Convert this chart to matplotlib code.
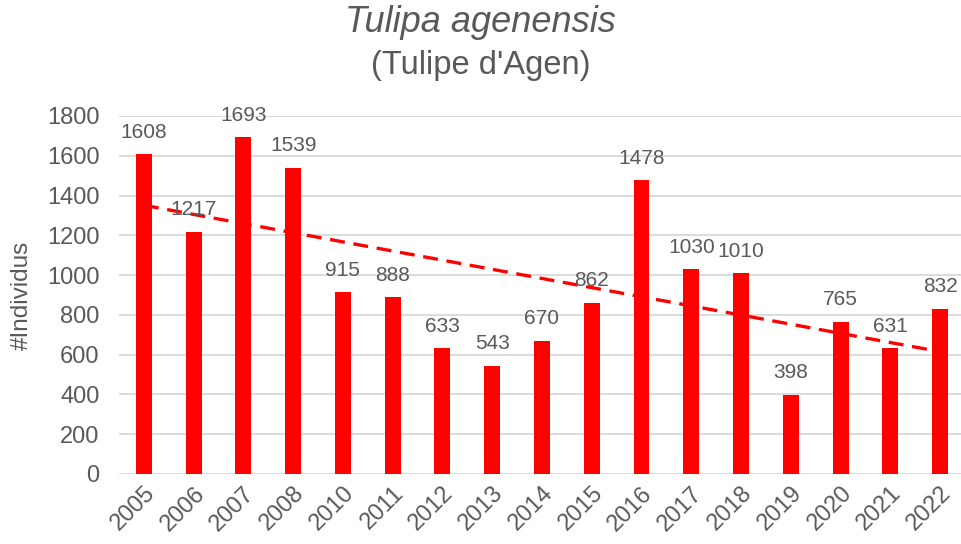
import matplotlib.pyplot as plt
import numpy as np

years = ["2005", "2006", "2007", "2008", "2010", "2011", "2012", "2013", "2014",
         "2015", "2016", "2017", "2018", "2019", "2020", "2021", "2022"]
counts = [1608, 1217, 1693, 1539, 915, 888, 633, 543, 670,
          862, 1478, 1030, 1010, 398, 765, 631, 832]

grey = "#595959"
plt.rcParams['font.family'] = ['Liberation Sans', 'DejaVu Sans']

fig = plt.figure(figsize=(9.61, 5.44), dpi=100)
ax = fig.add_axes([0.1238, 0.1287, 0.8762, 0.6581])

x = np.arange(len(years))
bars = ax.bar(x, counts, width=0.32, color="#ff0000", zorder=2)

# linear trend over the category index, like Excel does
slope, inter = np.polyfit(x, counts, 1)
ax.plot(x, slope * x + inter, color="#ff0000", lw=2.4, dashes=(4.5, 2.6), zorder=3)

for xi, v in zip(x, counts):
    ax.annotate(str(v), (xi, v), xytext=(0, 9), textcoords="offset points",
                ha="center", va="bottom", fontsize=15, color=grey, zorder=4)

ax.set_xlim(-0.5, 16.42)
ax.set_ylim(0, 1800)
ax.set_yticks(range(0, 1801, 200))
ax.set_xticks(x)
ax.set_xticklabels(years, rotation=45, ha="right", rotation_mode="anchor")
ax.tick_params(axis="both", length=0, labelsize=17, colors=grey)
ax.tick_params(axis="y", pad=14)
ax.tick_params(axis="x", pad=6)
ax.grid(axis="y", color="#d9d9d9", lw=1.3, zorder=0)
for s in ax.spines.values():
    s.set_visible(False)
ax.set_ylabel("#Individus", fontsize=17.5, color=grey, labelpad=10)

fig.text(0.5, 0.958, "Tulipa agenensis", ha="center", va="center",
         fontsize=26, style="italic", color=grey)
fig.text(0.5, 0.88, "(Tulipe d'Agen)", ha="center", va="center",
         fontsize=23.5, color=grey)

fig.savefig("out.png", dpi=100)
